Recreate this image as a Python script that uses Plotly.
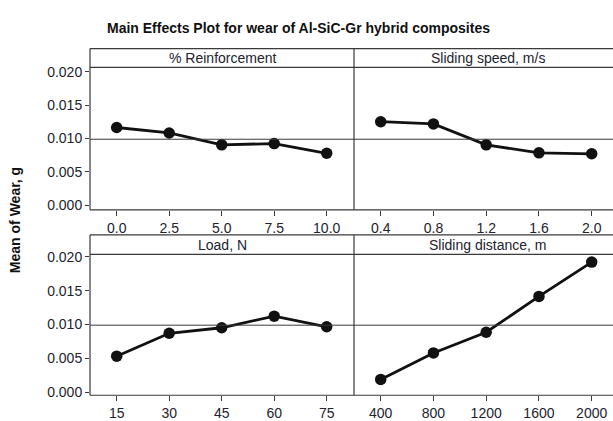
import plotly.graph_objects as go

# ---- data ----
reinf_levels = [0.0, 2.5, 5.0, 7.5, 10.0]
reinf_wear = [0.01166, 0.01084, 0.00906, 0.00925, 0.00780]
speed_levels = [0.4, 0.8, 1.2, 1.6, 2.0]
speed_wear = [0.01253, 0.01220, 0.00906, 0.00786, 0.00772]
load_levels = [15, 30, 45, 60, 75]
load_wear = [0.00531, 0.00870, 0.00952, 0.01124, 0.00966]
dist_levels = [400, 800, 1200, 1600, 2000]
dist_wear = [0.00187, 0.00579, 0.00885, 0.01416, 0.01924]
grand_mean = 0.0099
panel_titles = ["% Reinforcement", "Sliding speed, m/s", "Load, N", "Sliding distance, m"]
y_ticks = [0.0, 0.005, 0.010, 0.015, 0.020]
y_ticktext = ["0.000", "0.005", "0.010", "0.015", "0.020"]

W, H = 613, 421
def px(x):
    return x / W
def py(y):
    return 1 - y / H

FONT = "Liberation Sans, Arial, sans-serif"
TXT = "#23232e"
LINE = "#3a3a3a"

fig = go.Figure()

series = [
    (reinf_levels, reinf_wear, "x", "y"),
    (speed_levels, speed_wear, "x2", "y2"),
    (load_levels, load_wear, "x3", "y3"),
    (dist_levels, dist_wear, "x4", "y4"),
]
for xs, ys, xa, ya in series:
    fig.add_trace(go.Scatter(
        x=xs, y=ys, xaxis=xa, yaxis=ya, mode="lines+markers",
        line=dict(color="#111111", width=2.8),
        marker=dict(color="#111111", size=11.5),
        showlegend=False, hoverinfo="x+y"))

left_x0, mid_x, right_x1 = 90, 354, 613
top_row = dict(frame_top=45, strip=64.3, bottom=211.3)
bot_row = dict(frame_top=237.3, strip=257.3, bottom=402.7)

common_x = dict(ticks="outside", ticklen=5, tickwidth=1, tickcolor=LINE,
                showgrid=False, zeroline=False, showline=False,
                tickfont=dict(family=FONT, size=14, color=TXT))
common_y = dict(ticks="outside", ticklen=4, tickwidth=1, tickcolor=LINE,
                showgrid=False, zeroline=False, showline=False,
                tickvals=y_ticks, ticktext=y_ticktext,
                tickfont=dict(family=FONT, size=14, color=TXT))

top_dom = [py(top_row["bottom"]), py(top_row["strip"])]
bot_dom = [py(bot_row["bottom"]), py(bot_row["strip"])]
left_dom = [px(left_x0), px(mid_x)]
right_dom = [px(mid_x), 1.0]

fig.update_layout(
    width=W, height=H, autosize=False,
    margin=dict(l=0, r=0, t=0, b=0),
    paper_bgcolor="white", plot_bgcolor="white",
    xaxis=dict(domain=left_dom, anchor="y", range=[-1.271, 11.30],
               tickvals=reinf_levels, ticktext=[f"{v:.1f}" for v in reinf_levels], **common_x),
    yaxis=dict(domain=top_dom, anchor="x", range=[-0.00067, 0.02068], **common_y),
    xaxis2=dict(domain=right_dom, anchor="y2", range=[0.1975, 2.1615],
                tickvals=speed_levels, ticktext=[f"{v:.1f}" for v in speed_levels], **common_x),
    yaxis2=dict(domain=top_dom, anchor="x2", range=[-0.00067, 0.02068],
                showticklabels=False, ticks="", showgrid=False, zeroline=False),
    xaxis3=dict(domain=left_dom, anchor="y3", range=[7.37, 82.8],
                tickvals=load_levels, ticktext=[str(v) for v in load_levels], **common_x),
    yaxis3=dict(domain=bot_dom, anchor="x3", range=[-0.00048, 0.02039], **common_y),
    xaxis4=dict(domain=right_dom, anchor="y4", range=[197.5, 2161.5],
                tickvals=dist_levels, ticktext=[str(v) for v in dist_levels], **common_x),
    yaxis4=dict(domain=bot_dom, anchor="x4", range=[-0.00048, 0.02039],
                showticklabels=False, ticks="", showgrid=False, zeroline=False),
)

shapes = []
for row in (top_row, bot_row):
    t, s, b = py(row["frame_top"]), py(row["strip"]), py(row["bottom"])
    ln = dict(color=LINE, width=1.2)
    for yy in (t, s, b):
        shapes.append(dict(type="line", xref="paper", yref="paper",
                           x0=px(left_x0), x1=1.01, y0=yy, y1=yy, line=ln))
    for xx in (px(left_x0), px(mid_x)):
        shapes.append(dict(type="line", xref="paper", yref="paper",
                           x0=xx, x1=xx, y0=b, y1=t, line=ln))

# reference lines at the overall mean
for yref in ("y", "y3"):
    shapes.append(dict(type="line", xref="paper", yref=yref,
                       x0=px(left_x0), x1=1.01, y0=grand_mean, y1=grand_mean,
                       line=dict(color=LINE, width=1)))
fig.update_layout(shapes=shapes)

annotations = [
    dict(text="<b>Main Effects Plot for wear of Al-SiC-Gr hybrid composites</b>",
         xref="paper", yref="paper", x=px(298), y=py(24), showarrow=False,
         xanchor="center", yanchor="middle",
         font=dict(family=FONT, size=14, color="#111111")),
    dict(text="<b>Mean of Wear, g</b>", textangle=-90,
         xref="paper", yref="paper", x=px(15), y=py(222), showarrow=False,
         xanchor="center", yanchor="middle",
         font=dict(family=FONT, size=14, color="#111111")),
]
strip_centers = [
    (222, 54.7), (488, 54.7), (222, 247.3), (488, 247.3)
]
for title, (cx, cy) in zip(panel_titles, strip_centers):
    annotations.append(dict(text=title, xref="paper", yref="paper",
                            x=px(cx), y=py(cy), showarrow=False,
                            xanchor="center", yanchor="middle",
                            font=dict(family=FONT, size=14, color=TXT)))
fig.update_layout(annotations=annotations)

post = (
    "var s=document.createElement('style');"
    "s.textContent='html,body{margin:0;padding:0;height:421px;overflow:hidden;}"
    ".plotly-graph-div{overflow:hidden;}';"
    "document.head.appendChild(s);"
)
fig.write_html("out.html", config={"displayModeBar": False}, post_script=post)
